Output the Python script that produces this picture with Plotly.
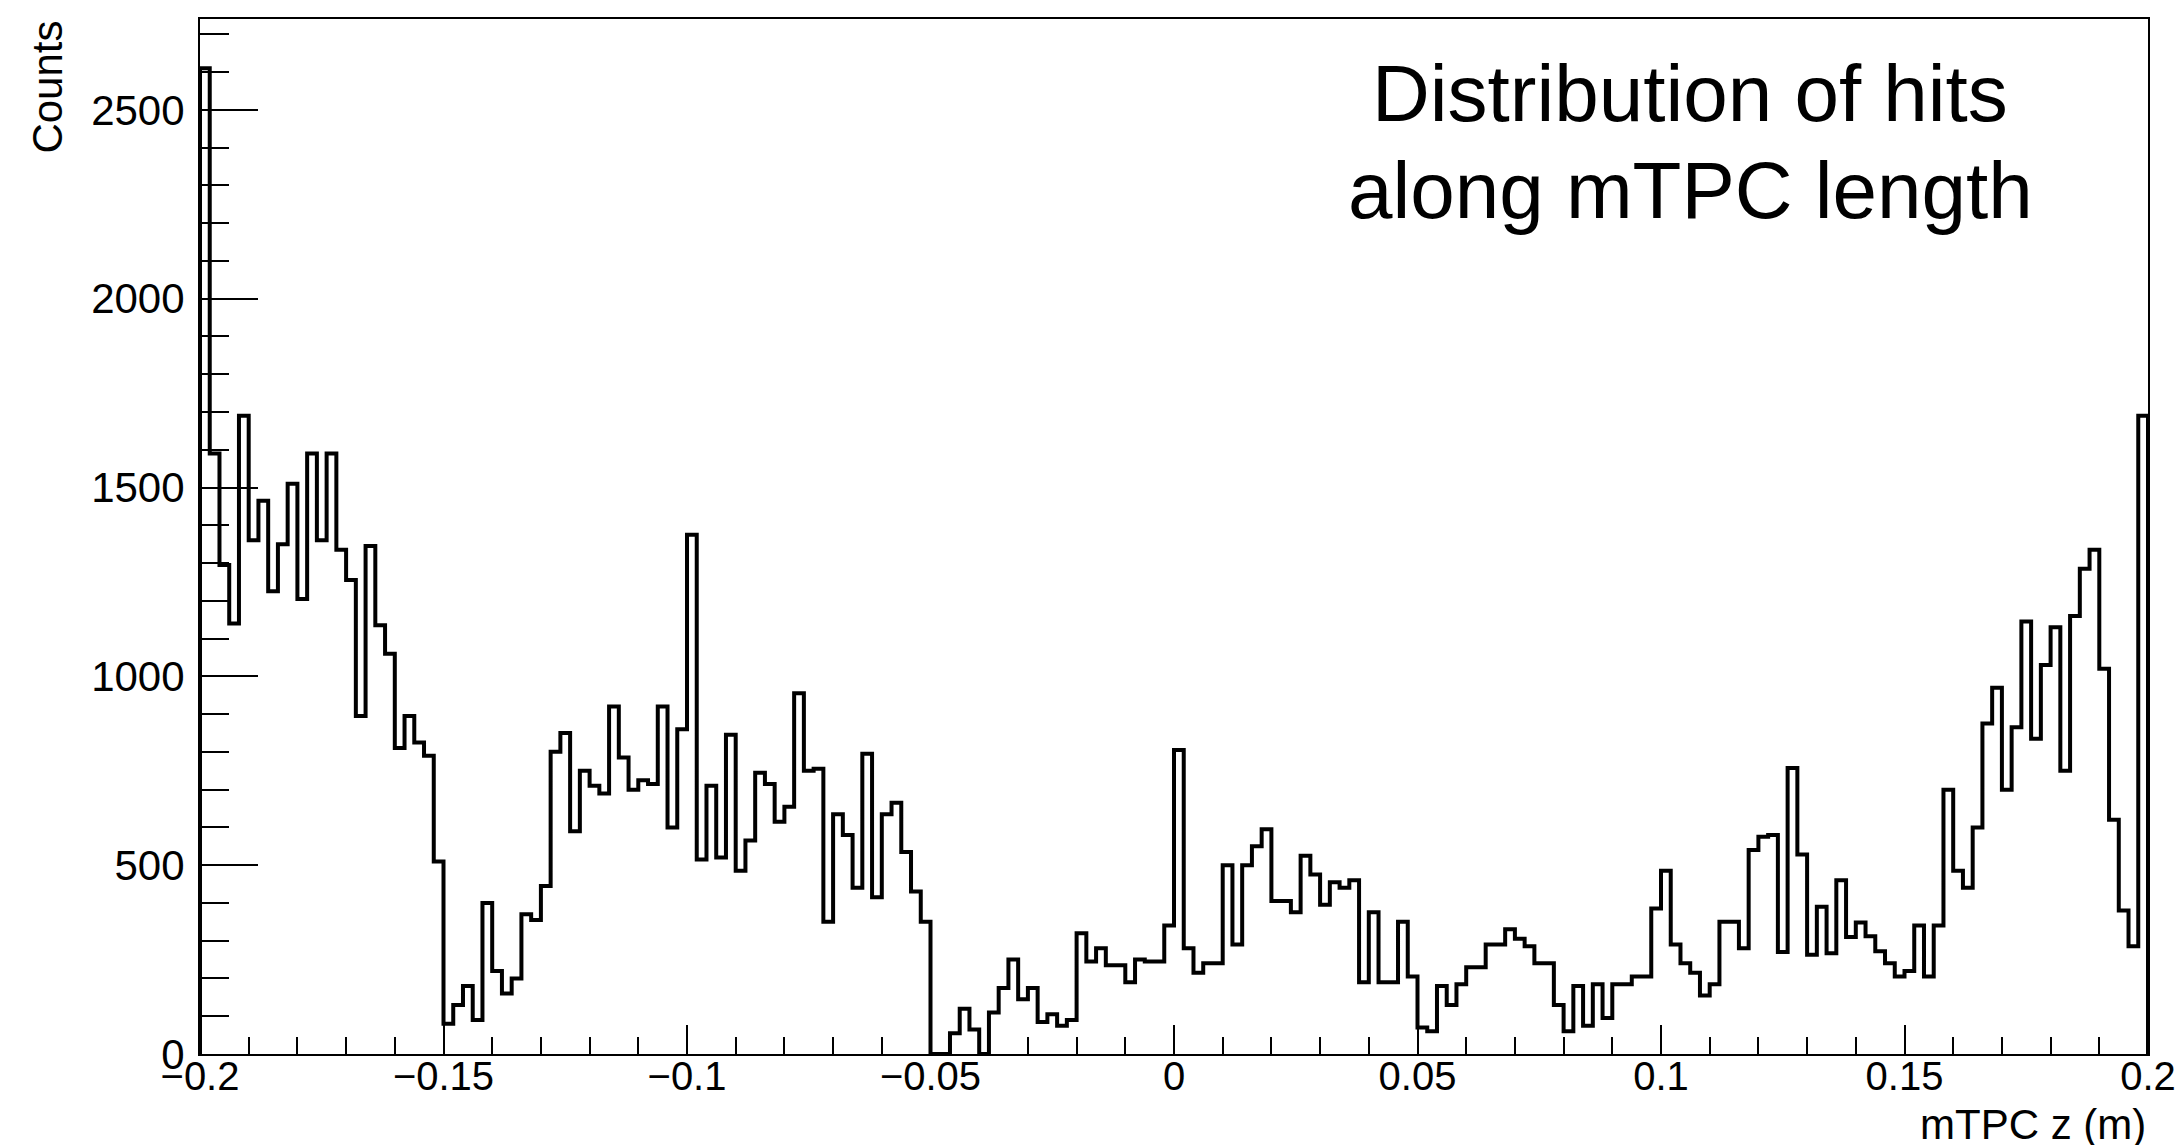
import numpy as np
import plotly.graph_objects as go

# Histogram of hit positions along the mTPC z axis (200 bins, 2 mm wide)
Z_MIN, Z_MAX = -0.2, 0.2

counts = [
    2610, 1590, 1295, 1140, 1690, 1360, 1465, 1225, 1350, 1510,
    1205, 1590, 1360, 1590, 1335, 1255, 895, 1345, 1135, 1060,
    810, 895, 825, 790, 510, 80, 130, 180, 90, 400,
    220, 160, 200, 370, 355, 445, 800, 850, 590, 750,
    710, 690, 920, 785, 700, 725, 715, 920, 600, 860,
    1375, 515, 710, 520, 845, 485, 565, 745, 715, 615,
    655, 955, 750, 755, 350, 635, 580, 440, 795, 415,
    635, 665, 535, 430, 350, 0, 0, 55, 120, 65,
    0, 110, 175, 250, 145, 175, 85, 105, 75, 90,
    320, 245, 280, 235, 235, 190, 250, 245, 245, 340,
    805, 280, 215, 240, 240, 500, 290, 500, 550, 595,
    405, 405, 375, 525, 475, 395, 455, 440, 460, 190,
    375, 190, 190, 350, 205, 70, 60, 180, 130, 185,
    230, 230, 290, 290, 330, 305, 285, 240, 240, 130,
    60, 180, 75, 185, 95, 185, 185, 205, 205, 385,
    485, 290, 240, 215, 155, 185, 350, 350, 280, 540,
    575, 580, 270, 757, 528, 263, 390, 267, 460, 310,
    348, 312, 272, 240, 205, 220, 340, 205, 340, 700,
    485, 440, 600, 875, 970, 700, 865, 1145, 835, 1030,
    1130, 750, 1160, 1285, 1335, 1020, 620, 380, 285, 1690,
]

x_tickvals = [-0.2, -0.15, -0.1, -0.05, 0.0, 0.05, 0.1, 0.15, 0.2]
x_ticktext = ["\u22120.2", "\u22120.15", "\u22120.1", "\u22120.05", "0",
              "0.05", "0.1", "0.15", "0.2"]
y_tickvals = [0, 500, 1000, 1500, 2000, 2500]
y_ticktext = ["0", "500", "1000", "1500", "2000", "2500"]

x_title = "mTPC z (m)"
y_title = "Counts"
label_lines = ["Distribution of hits", "along mTPC length"]

# step outline: up from the first lower edge, across every bin, down at the end
edges = np.linspace(Z_MIN, Z_MAX, len(counts) + 1)
xs = [edges[0]] + list(edges[:-1]) + [edges[-1], edges[-1]]
ys = [0] + list(counts) + [counts[-1], 0]
y_max = max(counts) * 1.05

FONT = "Liberation Sans, Arial, Helvetica, sans-serif"

fig = go.Figure()
fig.add_trace(go.Scatter(
    x=xs, y=ys, mode="lines", line_shape="hv",
    line=dict(color="black", width=4),
    hoverinfo="skip", showlegend=False,
))

fig.update_layout(
    width=2183, height=1145, autosize=False,
    margin=dict(l=200, r=35, t=19, b=91, pad=0),
    paper_bgcolor="white", plot_bgcolor="white",
    font=dict(family=FONT, size=42, color="black"),
    showlegend=False,
)

fig.update_xaxes(
    range=[Z_MIN, Z_MAX], automargin=False,
    tickmode="array", tickvals=x_tickvals, ticktext=x_ticktext,
    ticks="inside", ticklen=29, tickwidth=2, tickcolor="black",
    minor=dict(ticks="inside", ticklen=17, tickwidth=2, tickcolor="black",
               dtick=0.01, tick0=Z_MIN, showgrid=False),
    ticklabelstandoff=-14,
    showline=True, linecolor="black", linewidth=2, mirror=True,
    showgrid=False, zeroline=False,
    tickfont=dict(family=FONT, size=40, color="black"),
)
fig.update_yaxes(
    range=[0, y_max], automargin=False,
    tickmode="array", tickvals=y_tickvals, ticktext=y_ticktext,
    ticks="inside", ticklen=58, tickwidth=2, tickcolor="black",
    minor=dict(ticks="inside", ticklen=29, tickwidth=2, tickcolor="black",
               dtick=100, tick0=0, showgrid=False),
    ticklabelstandoff=5,
    showline=True, linecolor="black", linewidth=2, mirror=True,
    showgrid=False, zeroline=False,
    tickfont=dict(family=FONT, size=42, color="black"),
)

fig.add_annotation(
    text=x_title, xref="paper", yref="paper", x=1.0, y=-0.068,
    xanchor="right", yanchor="middle", showarrow=False,
    font=dict(family=FONT, size=42, color="black"),
)
fig.add_annotation(
    text=y_title, xref="paper", yref="paper", x=-0.0785, y=1.0,
    xanchor="center", yanchor="top", textangle=-90, showarrow=False,
    font=dict(family=FONT, size=42, color="black"),
)
for line, ypos in zip(label_lines, [0.9277, 0.834]):
    fig.add_annotation(
        text=line, xref="paper", yref="paper", x=0.765, y=ypos,
        xanchor="center", yanchor="middle", showarrow=False,
        font=dict(family=FONT, size=80, color="black"),
    )

fig.write_html("out.html")
